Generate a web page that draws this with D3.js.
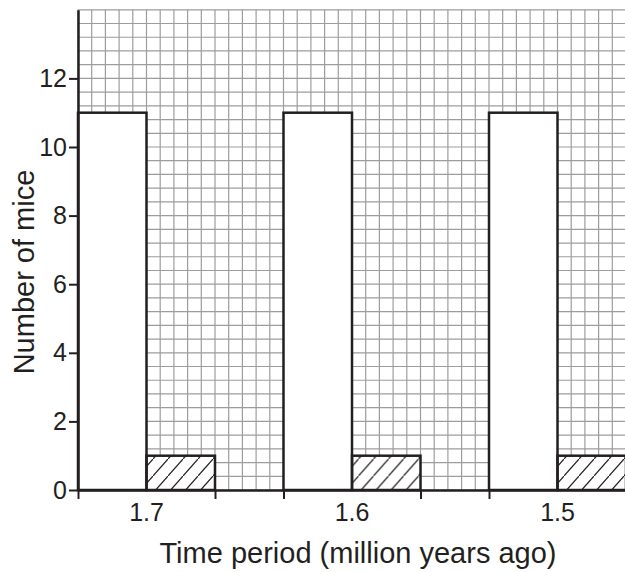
<!DOCTYPE html>
<html>
<head>
<meta charset="utf-8">
<script src="https://cdn.jsdelivr.net/npm/d3@7"></script>
<style>
  body { margin: 0; background: #fff; }
  text { font-family: "Liberation Sans", Arial, sans-serif; fill: #231f20; }
</style>
</head>
<body>
<main></main>
<script>
// Mice bar chart on graph paper

const periods = ["1.7", "1.6", "1.5"];
const seriesKeys = ["open", "hatched"];
const openValues = [11, 11, 11];
const hatchedValues = [1, 1, 1];
const yTicks = [0, 2, 4, 6, 8, 10, 12];

document.addEventListener('DOMContentLoaded', function(){

	// Parameters
	const w = 625;
	const h = 572;
	const left = 78;
	const right = 626;
	const bottom = 490;
	const yMax = 14;
	const square = 0.4;          // y units per grid square
	const nbCols = 40;           // grid squares across
	const ink = "#231f20";
	const gridColor = "#9d9d9d";

	const svg = d3.select("main")
				  .append("svg")
				  .attr("width", w)
				  .attr("height", h);

	//Scales
	const yScale = d3.scaleLinear()
					 .domain([0, yMax])
					 .range([bottom, bottom - yMax * 34.3]);

	const xScale = d3.scaleBand()
					 .domain(periods)
					 .range([left, right])
					 .paddingInner(1 / 3)
					 .paddingOuter(0);

	const xSub = d3.scaleBand()
				   .domain(seriesKeys)
				   .range([0, xScale.bandwidth()]);

	// grid squares along x
	const xGrid = d3.scaleLinear()
					.domain([0, nbCols])
					.range([left, right]);

	//Hatch pattern
	const defs = svg.append("defs");
	defs.append("pattern")
		.attr("id", "hatch")
		.attr("patternUnits", "userSpaceOnUse")
		.attr("width", 15)
		.attr("height", 17)
		.append("path")
		.attr("d", "M-1,18.13 L16,-1.13")
		.attr("stroke", ink)
		.attr("stroke-width", 1.2);

	//Graph paper
	const grid = svg.append("g").attr("id", "grid");
	grid.selectAll("line.h")
		.data(d3.range(0, Math.round(yMax / square) + 1))
		.enter()
		.append("line")
		.attr("class", "h")
		.attr("x1", left)
		.attr("x2", right)
		.attr("y1", d => yScale(d * square))
		.attr("y2", d => yScale(d * square))
		.attr("stroke", gridColor)
		.attr("stroke-width", 1.2);

	grid.selectAll("line.v")
		.data(d3.range(0, nbCols + 1))
		.enter()
		.append("line")
		.attr("class", "v")
		.attr("x1", d => xGrid(d))
		.attr("x2", d => xGrid(d))
		.attr("y1", yScale(yMax))
		.attr("y2", yScale(0))
		.attr("stroke", gridColor)
		.attr("stroke-width", 1.2);

	//Bars
	const rows = periods.map((p, i) => ({period: p, open: openValues[i], hatched: hatchedValues[i]}));

	const groups = svg.selectAll("g.period")
					  .data(rows)
					  .enter()
					  .append("g")
					  .attr("class", "period")
					  .attr("transform", d => "translate(" + xScale(d.period) + ",0)");

	groups.selectAll("rect")
		  .data(d => seriesKeys.map(k => ({key: k, value: d[k]})))
		  .enter()
		  .append("rect")
		  .attr("x", d => xSub(d.key))
		  .attr("y", d => yScale(d.value))
		  .attr("width", xSub.bandwidth())
		  .attr("height", d => yScale(0) - yScale(d.value))
		  .attr("fill", d => d.key == "hatched" ? "url(#hatch)" : "#fff")
		  .attr("stroke", ink)
		  .attr("stroke-width", 2.5);

	// white under the hatch
	groups.insert("rect", "rect")
		  .attr("x", xSub("hatched"))
		  .attr("y", d => yScale(d.hatched))
		  .attr("width", xSub.bandwidth())
		  .attr("height", d => yScale(0) - yScale(d.hatched))
		  .attr("fill", "#fff");

	//Axes
	const y_axis = d3.axisLeft()
					 .scale(yScale)
					 .tickValues(yTicks)
					 .tickSize(9)
					 .tickSizeOuter(0)
					 .tickPadding(2);

	const yG = svg.append("g")
				  .attr("id", "y-axis")
				  .attr("transform", "translate(" + left + ",0)")
				  .call(y_axis);

	const x_axis = d3.axisBottom()
					 .scale(xGrid)
					 .tickValues([0, 10, 15, 25, 30, 40])
					 .tickFormat("")
					 .tickSize(9)
					 .tickSizeOuter(0);

	const xG = svg.append("g")
				  .attr("id", "x-axis")
				  .attr("transform", "translate(0," + bottom + ")")
				  .call(x_axis);

	const xLabels = svg.append("g")
					   .attr("transform", "translate(0," + bottom + ")")
					   .call(d3.axisBottom(xScale).tickSize(0).tickPadding(13));
	xLabels.select(".domain").remove();

	[yG, xG, xLabels].forEach(g => {
		g.selectAll(".domain").attr("stroke", ink).attr("stroke-width", 2.5);
		g.selectAll(".tick line").attr("stroke", ink).attr("stroke-width", 2);
		g.selectAll(".tick text")
		 .attr("fill", ink)
		 .style("font-family", "'Liberation Sans', Arial, sans-serif")
		 .style("font-size", "25px");
	});

	//Axis titles
	svg.append("text")
	   .attr("text-anchor", "middle")
	   .attr("x", 358)
	   .attr("y", 563)
	   .style("font-size", "29px")
	   .text("Time period (million years ago)");

	svg.append("text")
	   .attr("text-anchor", "middle")
	   .attr("transform", "translate(34,272) rotate(-90)")
	   .style("font-size", "29px")
	   .text("Number of mice");
});
</script>
</body>
</html>
